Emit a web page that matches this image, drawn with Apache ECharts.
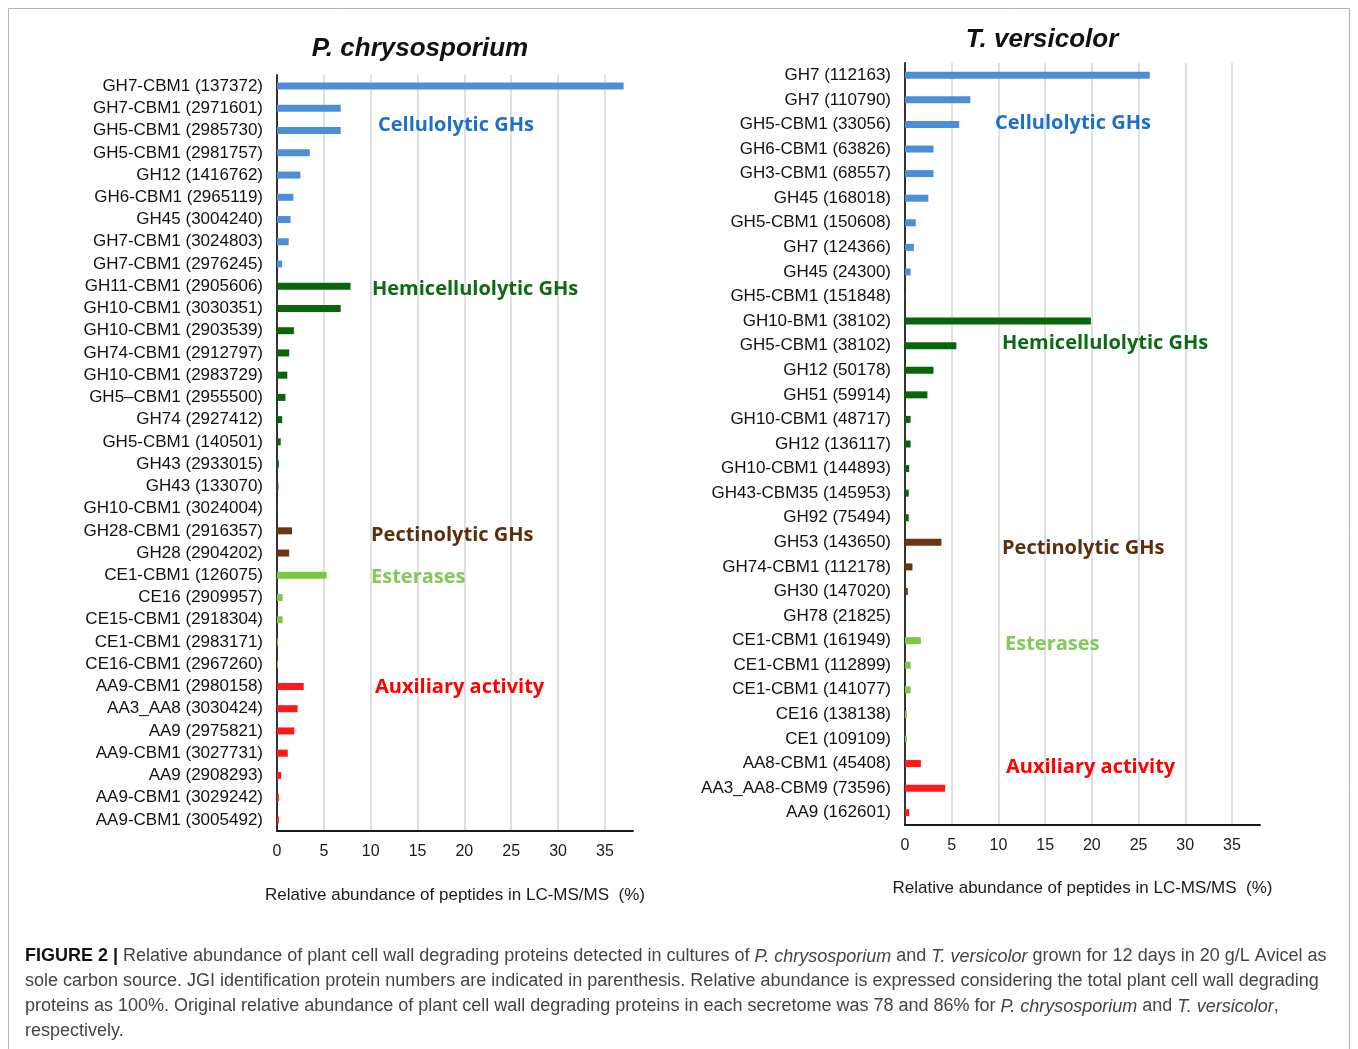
<!DOCTYPE html>
<html>
<head>
<meta charset="utf-8">
<title>Plant cell wall degrading proteins</title>
<script src="https://cdn.jsdelivr.net/npm/echarts@6/dist/echarts.min.js"></script>
<style>
  html, body { margin: 0; padding: 0; background: #ffffff; }
  #chart { width: 1358px; height: 1049px; }
</style>
</head>
<body>
<div id="chart"></div>
<script>
// ---- P. chrysosporium ----
const pcCategories = [
  'GH7-CBM1 (137372)', 'GH7-CBM1 (2971601)', 'GH5-CBM1 (2985730)', 'GH5-CBM1 (2981757)',
  'GH12 (1416762)', 'GH6-CBM1 (2965119)', 'GH45 (3004240)', 'GH7-CBM1 (3024803)',
  'GH7-CBM1 (2976245)', 'GH11-CBM1 (2905606)', 'GH10-CBM1 (3030351)', 'GH10-CBM1 (2903539)',
  'GH74-CBM1 (2912797)', 'GH10-CBM1 (2983729)', 'GH5\u2013CBM1 (2955500)', 'GH74 (2927412)',
  'GH5-CBM1 (140501)', 'GH43 (2933015)', 'GH43 (133070)', 'GH10-CBM1 (3024004)',
  'GH28-CBM1 (2916357)', 'GH28 (2904202)', 'CE1-CBM1 (126075)', 'CE16 (2909957)',
  'CE15-CBM1 (2918304)', 'CE1-CBM1 (2983171)', 'CE16-CBM1 (2967260)', 'AA9-CBM1 (2980158)',
  'AA3_AA8 (3030424)', 'AA9 (2975821)', 'AA9-CBM1 (3027731)', 'AA9 (2908293)',
  'AA9-CBM1 (3029242)', 'AA9-CBM1 (3005492)'
];
const pcValues = [
  37.0, 6.8, 6.8, 3.5, 2.5, 1.75, 1.45, 1.25, 0.55,
  7.85, 6.8, 1.8, 1.3, 1.1, 0.9, 0.55, 0.4, 0.2, 0.15, 0.1,
  1.6, 1.3,
  5.3, 0.6, 0.6, 0.1, 0.1,
  2.85, 2.2, 1.85, 1.15, 0.45, 0.2, 0.2
];
const pcGroups = [
  'cel', 'cel', 'cel', 'cel', 'cel', 'cel', 'cel', 'cel', 'cel',
  'hemi', 'hemi', 'hemi', 'hemi', 'hemi', 'hemi', 'hemi', 'hemi', 'hemi', 'hemi', 'hemi',
  'pect', 'pect',
  'est', 'est', 'est', 'est', 'est',
  'aa', 'aa', 'aa', 'aa', 'aa', 'aa', 'aa'
];

// ---- T. versicolor ----
const tvCategories = [
  'GH7 (112163)', 'GH7 (110790)', 'GH5-CBM1 (33056)', 'GH6-CBM1 (63826)', 'GH3-CBM1 (68557)',
  'GH45 (168018)', 'GH5-CBM1 (150608)', 'GH7 (124366)', 'GH45 (24300)', 'GH5-CBM1 (151848)',
  'GH10-BM1 (38102)', 'GH5-CBM1 (38102)', 'GH12 (50178)', 'GH51 (59914)', 'GH10-CBM1 (48717)',
  'GH12 (136117)', 'GH10-CBM1 (144893)', 'GH43-CBM35 (145953)', 'GH92 (75494)',
  'GH53 (143650)', 'GH74-CBM1 (112178)', 'GH30 (147020)', 'GH78 (21825)',
  'CE1-CBM1 (161949)', 'CE1-CBM1 (112899)', 'CE1-CBM1 (141077)', 'CE16 (138138)', 'CE1 (109109)',
  'AA8-CBM1 (45408)', 'AA3_AA8-CBM9 (73596)', 'AA9 (162601)'
];
const tvValues = [
  26.2, 7.0, 5.8, 3.05, 3.05, 2.5, 1.15, 0.95, 0.6, 0.02,
  19.9, 5.5, 3.05, 2.4, 0.6, 0.6, 0.45, 0.4, 0.4,
  3.9, 0.8, 0.3, 0.02,
  1.7, 0.6, 0.6, 0.2, 0.2,
  1.7, 4.3, 0.45
];
const tvGroups = [
  'cel', 'cel', 'cel', 'cel', 'cel', 'cel', 'cel', 'cel', 'cel', 'cel',
  'hemi', 'hemi', 'hemi', 'hemi', 'hemi', 'hemi', 'hemi', 'hemi', 'hemi',
  'pect', 'pect', 'pect', 'pect',
  'est', 'est', 'est', 'est', 'est',
  'aa', 'aa', 'aa'
];

const xTicks = [0, 5, 10, 15, 20, 25, 30, 35];
const axisTitle = 'Relative abundance of peptides in LC-MS/MS  (%)';

// bar colours and group captions
const barColors = { cel: '#4a8fd8', hemi: '#0a640a', pect: '#6b3512', est: '#7dc843', aa: '#ff1a1a' };
const groupNames = {
  cel: 'Cellulolytic GHs', hemi: 'Hemicellulolytic GHs', pect: 'Pectinolytic GHs',
  est: 'Esterases', aa: 'Auxiliary activity'
};
const groupTextColors = { cel: '#1c6fcc', hemi: '#0c6a12', pect: '#5c2d0c', est: '#82c85a', aa: '#ff0000' };

const LABEL_FONT = 'Liberation Sans, Arial, sans-serif';

function barData(values, groups) {
  return values.map((v, i) => ({ value: v, itemStyle: { color: barColors[groups[i]] } }));
}

function xAxisFor(gridIndex, nameGap) {
  return {
    type: 'value', gridIndex: gridIndex,
    min: xTicks[0], max: 38, interval: xTicks[1] - xTicks[0],
    name: axisTitle, nameLocation: 'middle', nameGap: nameGap,
    nameTextStyle: { fontFamily: LABEL_FONT, fontSize: 17, color: '#1a1a1a' },
    axisLine: { show: true, lineStyle: { color: '#1a1a1a', width: 2 } },
    axisTick: { show: false },
    axisLabel: {
      fontFamily: LABEL_FONT, fontSize: 16, color: '#1a1a1a', margin: 13,
      showMaxLabel: false,
      formatter: v => (xTicks.indexOf(v) >= 0 ? String(v) : '')
    },
    splitLine: { show: true, showMinLine: false, showMaxLine: false, lineStyle: { color: '#d6d6d6', width: 1.5 } }
  };
}

function yAxisFor(gridIndex, cats) {
  return {
    type: 'category', gridIndex: gridIndex, data: cats, inverse: true,
    axisLine: { show: true, lineStyle: { color: '#333333', width: 2 } },
    axisTick: { show: false },
    axisLabel: { fontFamily: LABEL_FONT, fontSize: 17, color: '#111111', margin: 14 }
  };
}

function groupText(key, x, y) {
  return {
    type: 'text', x: x, y: y, z: 100,
    style: {
      text: groupNames[key], fill: groupTextColors[key],
      font: 'bold 20px "Open Sans", "Noto Sans", sans-serif',
      textAlign: 'left', textVerticalAlign: 'middle'
    }
  };
}

const caption = [
  '{b|FIGURE 2 |} Relative abundance of plant cell wall degrading proteins detected in cultures of {i|P. chrysosporium} and {i|T. versicolor} grown for 12 days in 20 g/L Avicel as',
  'sole carbon source. JGI identification protein numbers are indicated in parenthesis. Relative abundance is expressed considering the total plant cell wall degrading',
  'proteins as 100%. Original relative abundance of plant cell wall degrading proteins in each secretome was 78 and 86% for {i|P. chrysosporium} and {i|T. versicolor},',
  'respectively.'
].join('\n');

const chart = echarts.init(document.getElementById('chart'), null, { renderer: 'canvas' });

chart.setOption({
  animation: false,
  backgroundColor: '#ffffff',
  grid: [
    { left: 277, top: 75, width: 356, height: 756 },
    { left: 905, top: 63, width: 355, height: 762 }
  ],
  xAxis: [xAxisFor(0, 56), xAxisFor(1, 55)],
  yAxis: [yAxisFor(0, pcCategories), yAxisFor(1, tvCategories)],
  series: [
    { type: 'bar', xAxisIndex: 0, yAxisIndex: 0, barWidth: 7, data: barData(pcValues, pcGroups) },
    { type: 'bar', xAxisIndex: 1, yAxisIndex: 1, barWidth: 7, data: barData(tvValues, tvGroups) }
  ],
  graphic: [
    {
      type: 'rect', z: -1, silent: true,
      shape: { x: 8.5, y: 8.5, width: 1341, height: 1060 },
      style: { fill: 'none', stroke: '#b5b5b5', lineWidth: 1 }
    },
    {
      type: 'text', x: 420, y: 49, z: 100,
      style: {
        text: 'P. chrysosporium', fill: '#111111',
        font: 'italic bold 26px "Liberation Sans", Arial, sans-serif',
        textAlign: 'center', textVerticalAlign: 'middle'
      }
    },
    {
      type: 'text', x: 1042, y: 40, z: 100,
      style: {
        text: 'T. versicolor', fill: '#111111',
        font: 'italic bold 26px "Liberation Sans", Arial, sans-serif',
        textAlign: 'center', textVerticalAlign: 'middle'
      }
    },
    groupText('cel', 378, 125),
    groupText('hemi', 372, 289),
    groupText('pect', 371, 535),
    groupText('est', 371, 577),
    groupText('aa', 375, 687),
    groupText('cel', 995, 123),
    groupText('hemi', 1002, 343),
    groupText('pect', 1002, 548),
    groupText('est', 1005, 644),
    groupText('aa', 1006, 767),
    {
      type: 'text', x: 25, y: 944, z: 100,
      style: {
        text: caption,
        fill: '#444444',
        font: '18px "Liberation Sans", Arial, sans-serif',
        lineHeight: 25,
        rich: {
          b: { fontWeight: 'bold', fill: '#111111', fontSize: 18, fontFamily: 'Liberation Sans', lineHeight: 25 },
          i: { fontStyle: 'italic', fill: '#444444', fontSize: 18, fontFamily: 'Liberation Sans', lineHeight: 25 }
        }
      }
    }
  ]
});
</script>
</body>
</html>
